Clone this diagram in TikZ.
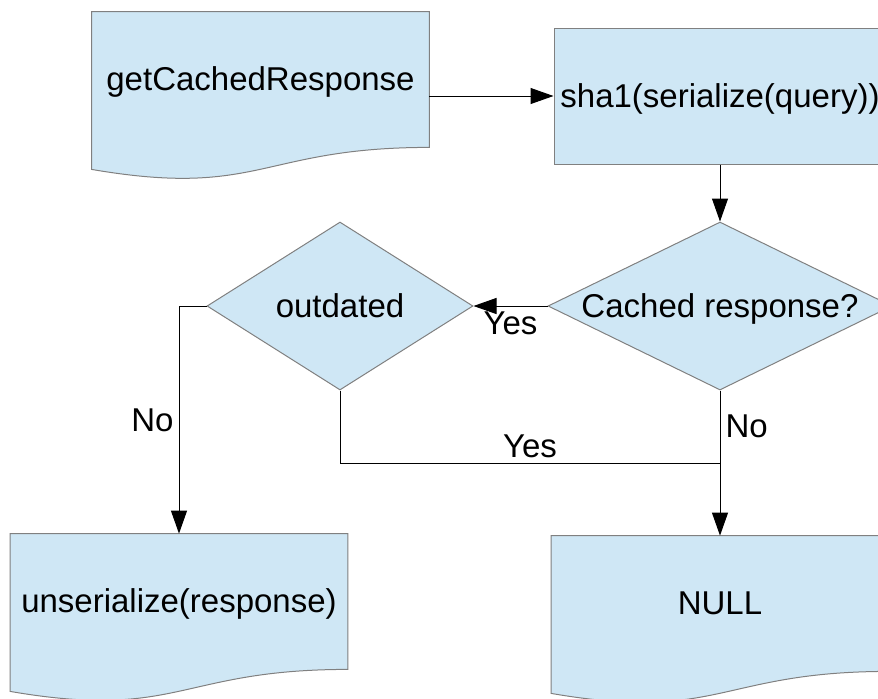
\documentclass[tikz,border=0pt]{standalone}
\usepackage{fontspec}
\setmainfont{Liberation Sans}
\usetikzlibrary{shapes.geometric, arrows.meta, calc, backgrounds}
\definecolor{azulclaro}{HTML}{CFE7F5}
\definecolor{borde}{HTML}{808080}

\begin{document}
\begin{tikzpicture}[x=0.5pt, y=-0.5pt,
    font=\fontsize{16.5}{19.8}\selectfont,
    forma/.style={fill=azulclaro, draw=borde, line width=0.5pt},
    documento/.style={inner sep=0pt, text height=14.9pt, text depth=3.5pt,
        minimum width=168.5pt, minimum height=67.5pt},
    proceso/.style={forma, inner sep=0pt, text height=14.9pt, text depth=3.5pt,
        minimum width=166pt, minimum height=68pt},
    decision/.style={forma, diamond, inner sep=0pt, text depth=0pt, minimum height=84pt},
    flecha/.style={black, line width=0.5pt, -{Triangle[length=11.5pt, width=8pt]}},
    linea/.style={black, line width=0.5pt},
    etiq/.style={inner sep=2.5pt}]
            % Marco
            \clip (0,0) rectangle (878,698);

            % Cajas
            \node[documento] (gcr) at (260.5,79.5) {getCachedResponse};
            \node[proceso] (sha1) at (720,96) {sha1(serialize(query))};
            \node[documento] (unser) at (179,601.5) {unserialize(response)};
            \node[documento] (nulo) at (720,603.5) {NULL};

            % Rombos
            \node[decision, aspect=2.2, minimum width=172pt] (cach) at (720,306) {Cached response?};
            \node[decision, aspect=1.58, minimum width=133pt] (outd) at (340,306) {outdated};

            % Documentos (borde ondulado)
            \begin{scope}[on background layer]
            \foreach \n in {gcr, unser, nulo}
                \path[forma] (\n.north west) -- (\n.north east) -- (\n.south east)
                    .. controls (\n.south) and ($(\n.south)+(0,51)$) .. ($(\n.south west)+(0,22)$) -- cycle;
            \end{scope}

            % Flechas
            \draw[flecha] (sha1.west -| gcr.east) -- (sha1.west);
            \draw[flecha] (sha1.south) -- (cach.north);
            \draw[flecha] (cach.west) -- node[etiq, below] {Yes} (outd.east);
            \draw[flecha] (outd.west) -| node[etiq, left, pos=0.75] {No} (unser.north);
            \draw[flecha] (cach.south) -- node[etiq, right, pos=0.25] {No} (nulo.north);

            % Union
            \coordinate (union) at (cach.south |- 0,463);
            \draw[linea] (outd.south) |- node[etiq, above, pos=0.75] {Yes} (union);
\end{tikzpicture}
\end{document}
